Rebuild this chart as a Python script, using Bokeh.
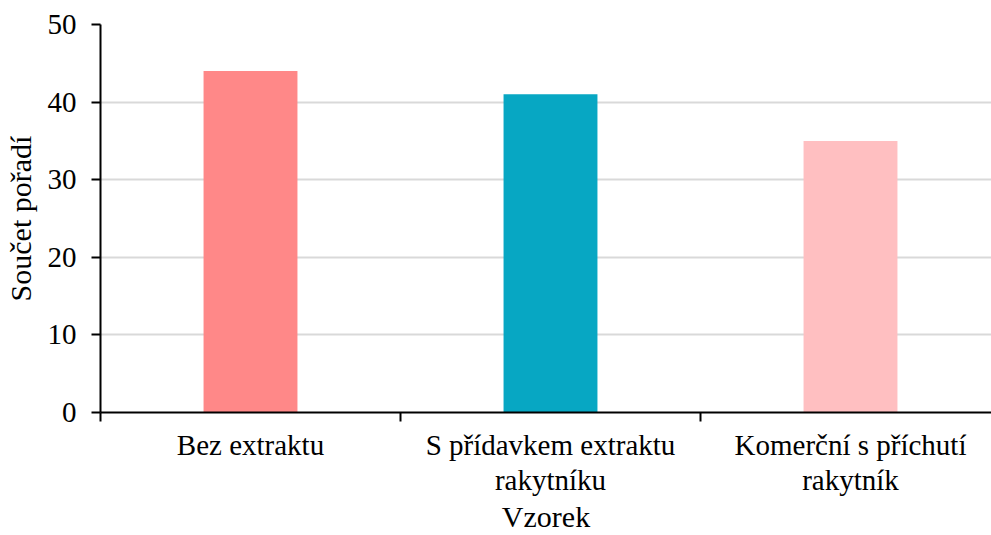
from bokeh.plotting import figure
from bokeh.models import Range1d, FixedTicker, ColumnDataSource
from bokeh.embed import file_html
from bokeh.resources import INLINE

categories = ["Bez extraktu", "S přídavkem extraktu\nrakytníku", "Komerční s příchutí\nrakytník"]
values = [44, 41, 35]
colors = ["#FF8888", "#07A7C3", "#FFBFC1"]
y_ticks = [0, 10, 20, 30, 40, 50]

xs = [i + 0.5 for i in range(len(categories))]
bounds = [float(i) for i in range(len(categories) + 1)]

FONT = "Liberation Serif"

p = figure(width=991, height=535, output_backend="svg", toolbar_location=None,
           x_range=Range1d(0, 2.97), y_range=Range1d(0, 50),
           min_border_left=100, min_border_right=0, min_border_top=24, min_border_bottom=123)
p.outline_line_color = None
p.background_fill_color = "white"
p.border_fill_color = "white"

src = ColumnDataSource(dict(x=xs, top=values, color=colors))
p.vbar(x="x", top="top", width=0.313, bottom=0, fill_color="color", line_color=None, source=src)

# y axis
p.yaxis.ticker = FixedTicker(ticks=y_ticks)
p.yaxis.axis_line_color = "black"
p.yaxis.axis_line_width = 2
p.yaxis.major_tick_line_width = 2
p.yaxis.major_tick_line_color = "black"
p.yaxis.major_tick_out = 9
p.yaxis.major_tick_in = 0
p.yaxis.minor_tick_line_color = None
p.yaxis.major_label_text_font = FONT
p.yaxis.major_label_text_font_size = "29px"
p.yaxis.major_label_text_color = "black"
p.yaxis.major_label_standoff = 15
p.yaxis.axis_label = "Součet pořadí"
p.yaxis.axis_label_text_font = FONT
p.yaxis.axis_label_text_font_size = "30px"
p.yaxis.axis_label_text_font_style = "normal"
p.yaxis.axis_label_text_color = "black"
p.yaxis.axis_label_standoff = 8

# x axis
p.xaxis.ticker = FixedTicker(ticks=xs, minor_ticks=bounds)
p.xaxis.major_label_overrides = {x: c for x, c in zip(xs, categories)}
p.xaxis.axis_line_color = "black"
p.xaxis.axis_line_width = 2
p.xaxis.major_tick_line_color = None
p.xaxis.major_tick_out = 0
p.xaxis.major_tick_in = 0
p.xaxis.minor_tick_line_color = "black"
p.xaxis.minor_tick_line_width = 2
p.xaxis.minor_tick_out = 9
p.xaxis.minor_tick_in = 0
p.xaxis.major_label_text_font = FONT
p.xaxis.major_label_text_font_size = "29px"
p.xaxis.major_label_text_line_height = 1.1
p.xaxis.major_label_text_color = "black"
p.xaxis.major_label_standoff = 7
p.xaxis.axis_label = "Vzorek"
p.xaxis.axis_label_text_font = FONT
p.xaxis.axis_label_text_font_size = "30px"
p.xaxis.axis_label_text_font_style = "normal"
p.xaxis.axis_label_text_color = "black"
p.xaxis.axis_label_standoff = 1

p.xgrid.grid_line_color = None
p.ygrid.ticker = FixedTicker(ticks=y_ticks[1:])
p.ygrid.grid_line_color = "#D9D9D9"
p.ygrid.grid_line_width = 2

open("out.html", "w").write(file_html(p, INLINE))
